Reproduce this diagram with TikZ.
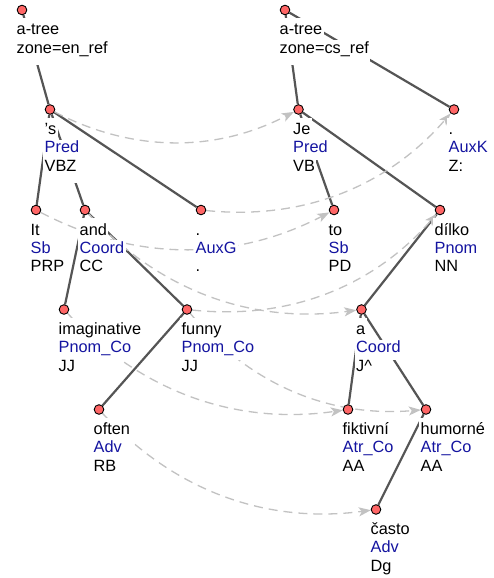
\documentclass[tikz,border=0pt]{standalone}
\usepackage{fontspec}
\setmainfont{Liberation Sans}[Ligatures={NoCommon}]
\usetikzlibrary{calc,arrows.meta}

\definecolor{nodered}{RGB}{255,102,102}
\definecolor{edgegray}{RGB}{85,85,85}
\definecolor{aligngray}{RGB}{194,194,194}
\definecolor{funcblue}{RGB}{20,20,160}

\pgfdeclarelayer{edgelayer}
\pgfdeclarelayer{arrowlayer}
\pgfdeclarelayer{labellayer}
\pgfsetlayers{edgelayer,arrowlayer,labellayer,main}

\newcommand\lblfont{\fontsize{16.3}{18.3}\selectfont}

\tikzset{
  tnode/.style={circle, draw=black, line width=0.9pt, fill=nodered,
    minimum size=9.6pt, inner sep=0pt},
  treeedge/.style={draw=edgegray, line width=2.2pt},
  alignline/.style={draw=aligngray, line width=1.3pt,
    dash pattern=on 9pt off 6pt,
    -{Stealth[length=12pt,width=9pt,inset=3pt,fill=aligngray]}},
  lblline/.style={fill=white, inner xsep=1.5pt, inner ysep=0pt,
    text height=13pt, text depth=7pt, font=\lblfont, anchor=base west},
  firstline/.style={lblline, text height=17pt},
  funcline/.style={lblline, text=funcblue},
  lastline/.style={lblline, text depth=12pt},
}

% three-line label under a tree node: form, function, tag
\newcommand\treelabel[4]{%
  \node[firstline] (#1-1) at ([shift={(-7,25)}]#1.center) {#2};
  \node[funcline]  (#1-2) at ([shift={(-7,43.3)}]#1.center) {#3};
  \node[lastline]  (#1-3) at ([shift={(-7,61.6)}]#1.center) {#4};
}
% two-line label under a tree root
\newcommand\rootlabel[3]{%
  \node[firstline] (#1-1) at ([shift={(-7,25)}]#1.center) {#2};
  \node[lastline]  (#1-2) at ([shift={(-7,43.3)}]#1.center) {#3};
}
% dashed alignment arrow, bowed to the right of its direction
\newcommand\alignarrow[2]{%
  \coordinate (q#1#2) at ($(#1)!0.5!(#2)!0.52!-90:(#2)$);
  \draw[alignline] (#1) .. controls ($(#1)!0.6667!(q#1#2)$)
    and ($(#2)!0.6667!(q#1#2)$) .. (#2);
}

\begin{document}
\begin{tikzpicture}[x=1pt, y=-1pt]
\useasboundingbox (0,0) rectangle (494,578);
\begin{pgfonlayer}{edgelayer}
  \fill[white] (0,0) rectangle (494,578);
\end{pgfonlayer}

% English tree
\node[tnode] (eroot)  at (22,10)    {};
\node[tnode] (es)     at (50,109.5) {};
\node[tnode] (eIt)    at (36,210)   {};
\node[tnode] (eand)   at (85,210)   {};
\node[tnode] (eAuxG)  at (201,210)  {};
\node[tnode] (eimag)  at (64,309.5) {};
\node[tnode] (efunny) at (187,309.5) {};
\node[tnode] (eoften) at (99,409.5) {};

% Czech tree
\node[tnode] (croot)  at (285,10)    {};
\node[tnode] (cJe)    at (298.5,109.5) {};
\node[tnode] (cAuxK)  at (454,109.5) {};
\node[tnode] (cto)    at (334,210)   {};
\node[tnode] (cdilko) at (440,210)   {};
\node[tnode] (ca)     at (361.5,309.5) {};
\node[tnode] (cfikt)  at (348,409.5) {};
\node[tnode] (chumor) at (426,409.5) {};
\node[tnode] (ccasto) at (376,509.5) {};

\begin{pgfonlayer}{edgelayer}
  \draw[treeedge] (eroot) -- (es);
  \draw[treeedge] (es) -- (eIt);
  \draw[treeedge] (es) -- (eand);
  \draw[treeedge] (es) -- (eAuxG);
  \draw[treeedge] (eand) -- (eimag);
  \draw[treeedge] (eand) -- (efunny);
  \draw[treeedge] (efunny) -- (eoften);
  \draw[treeedge] (croot) -- (cJe);
  \draw[treeedge] (croot) -- (cAuxK);
  \draw[treeedge] (cJe) -- (cto);
  \draw[treeedge] (cJe) -- (cdilko);
  \draw[treeedge] (cdilko) -- (ca);
  \draw[treeedge] (ca) -- (cfikt);
  \draw[treeedge] (ca) -- (chumor);
  \draw[treeedge] (chumor) -- (ccasto);
\end{pgfonlayer}

\begin{pgfonlayer}{arrowlayer}
  \alignarrow{es}{cJe}
  \alignarrow{eIt}{cto}
  \alignarrow{eAuxG}{cAuxK}
  \alignarrow{eand}{ca}
  \alignarrow{efunny}{cdilko}
  \alignarrow{eimag}{cfikt}
  \alignarrow{efunny}{chumor}
  \alignarrow{eoften}{ccasto}
\end{pgfonlayer}

\begin{pgfonlayer}{labellayer}
  \rootlabel{eroot}{a-tree}{zone=en\_ref}
  \treelabel{es}{{\char39}s}{Pred}{VBZ}
  \treelabel{eIt}{It}{Sb}{PRP}
  \treelabel{eand}{and}{Coord}{CC}
  \treelabel{eAuxG}{.}{AuxG}{.}
  \treelabel{eimag}{imaginative}{Pnom\_Co}{JJ}
  \treelabel{efunny}{funny}{Pnom\_Co}{JJ}
  \treelabel{eoften}{often}{Adv}{RB}
  \rootlabel{croot}{a-tree}{zone=cs\_ref}
  \treelabel{cJe}{Je}{Pred}{VB}
  \treelabel{cAuxK}{.}{AuxK}{Z:}
  \treelabel{cto}{to}{Sb}{PD}
  \treelabel{cdilko}{dílko}{Pnom}{NN}
  \treelabel{ca}{a}{Coord}{J\textasciicircum}
  \treelabel{cfikt}{fiktivní}{Atr\_Co}{AA}
  \treelabel{chumor}{humorné}{Atr\_Co}{AA}
  \treelabel{ccasto}{často}{Adv}{Dg}
\end{pgfonlayer}
\end{tikzpicture}
\end{document}
